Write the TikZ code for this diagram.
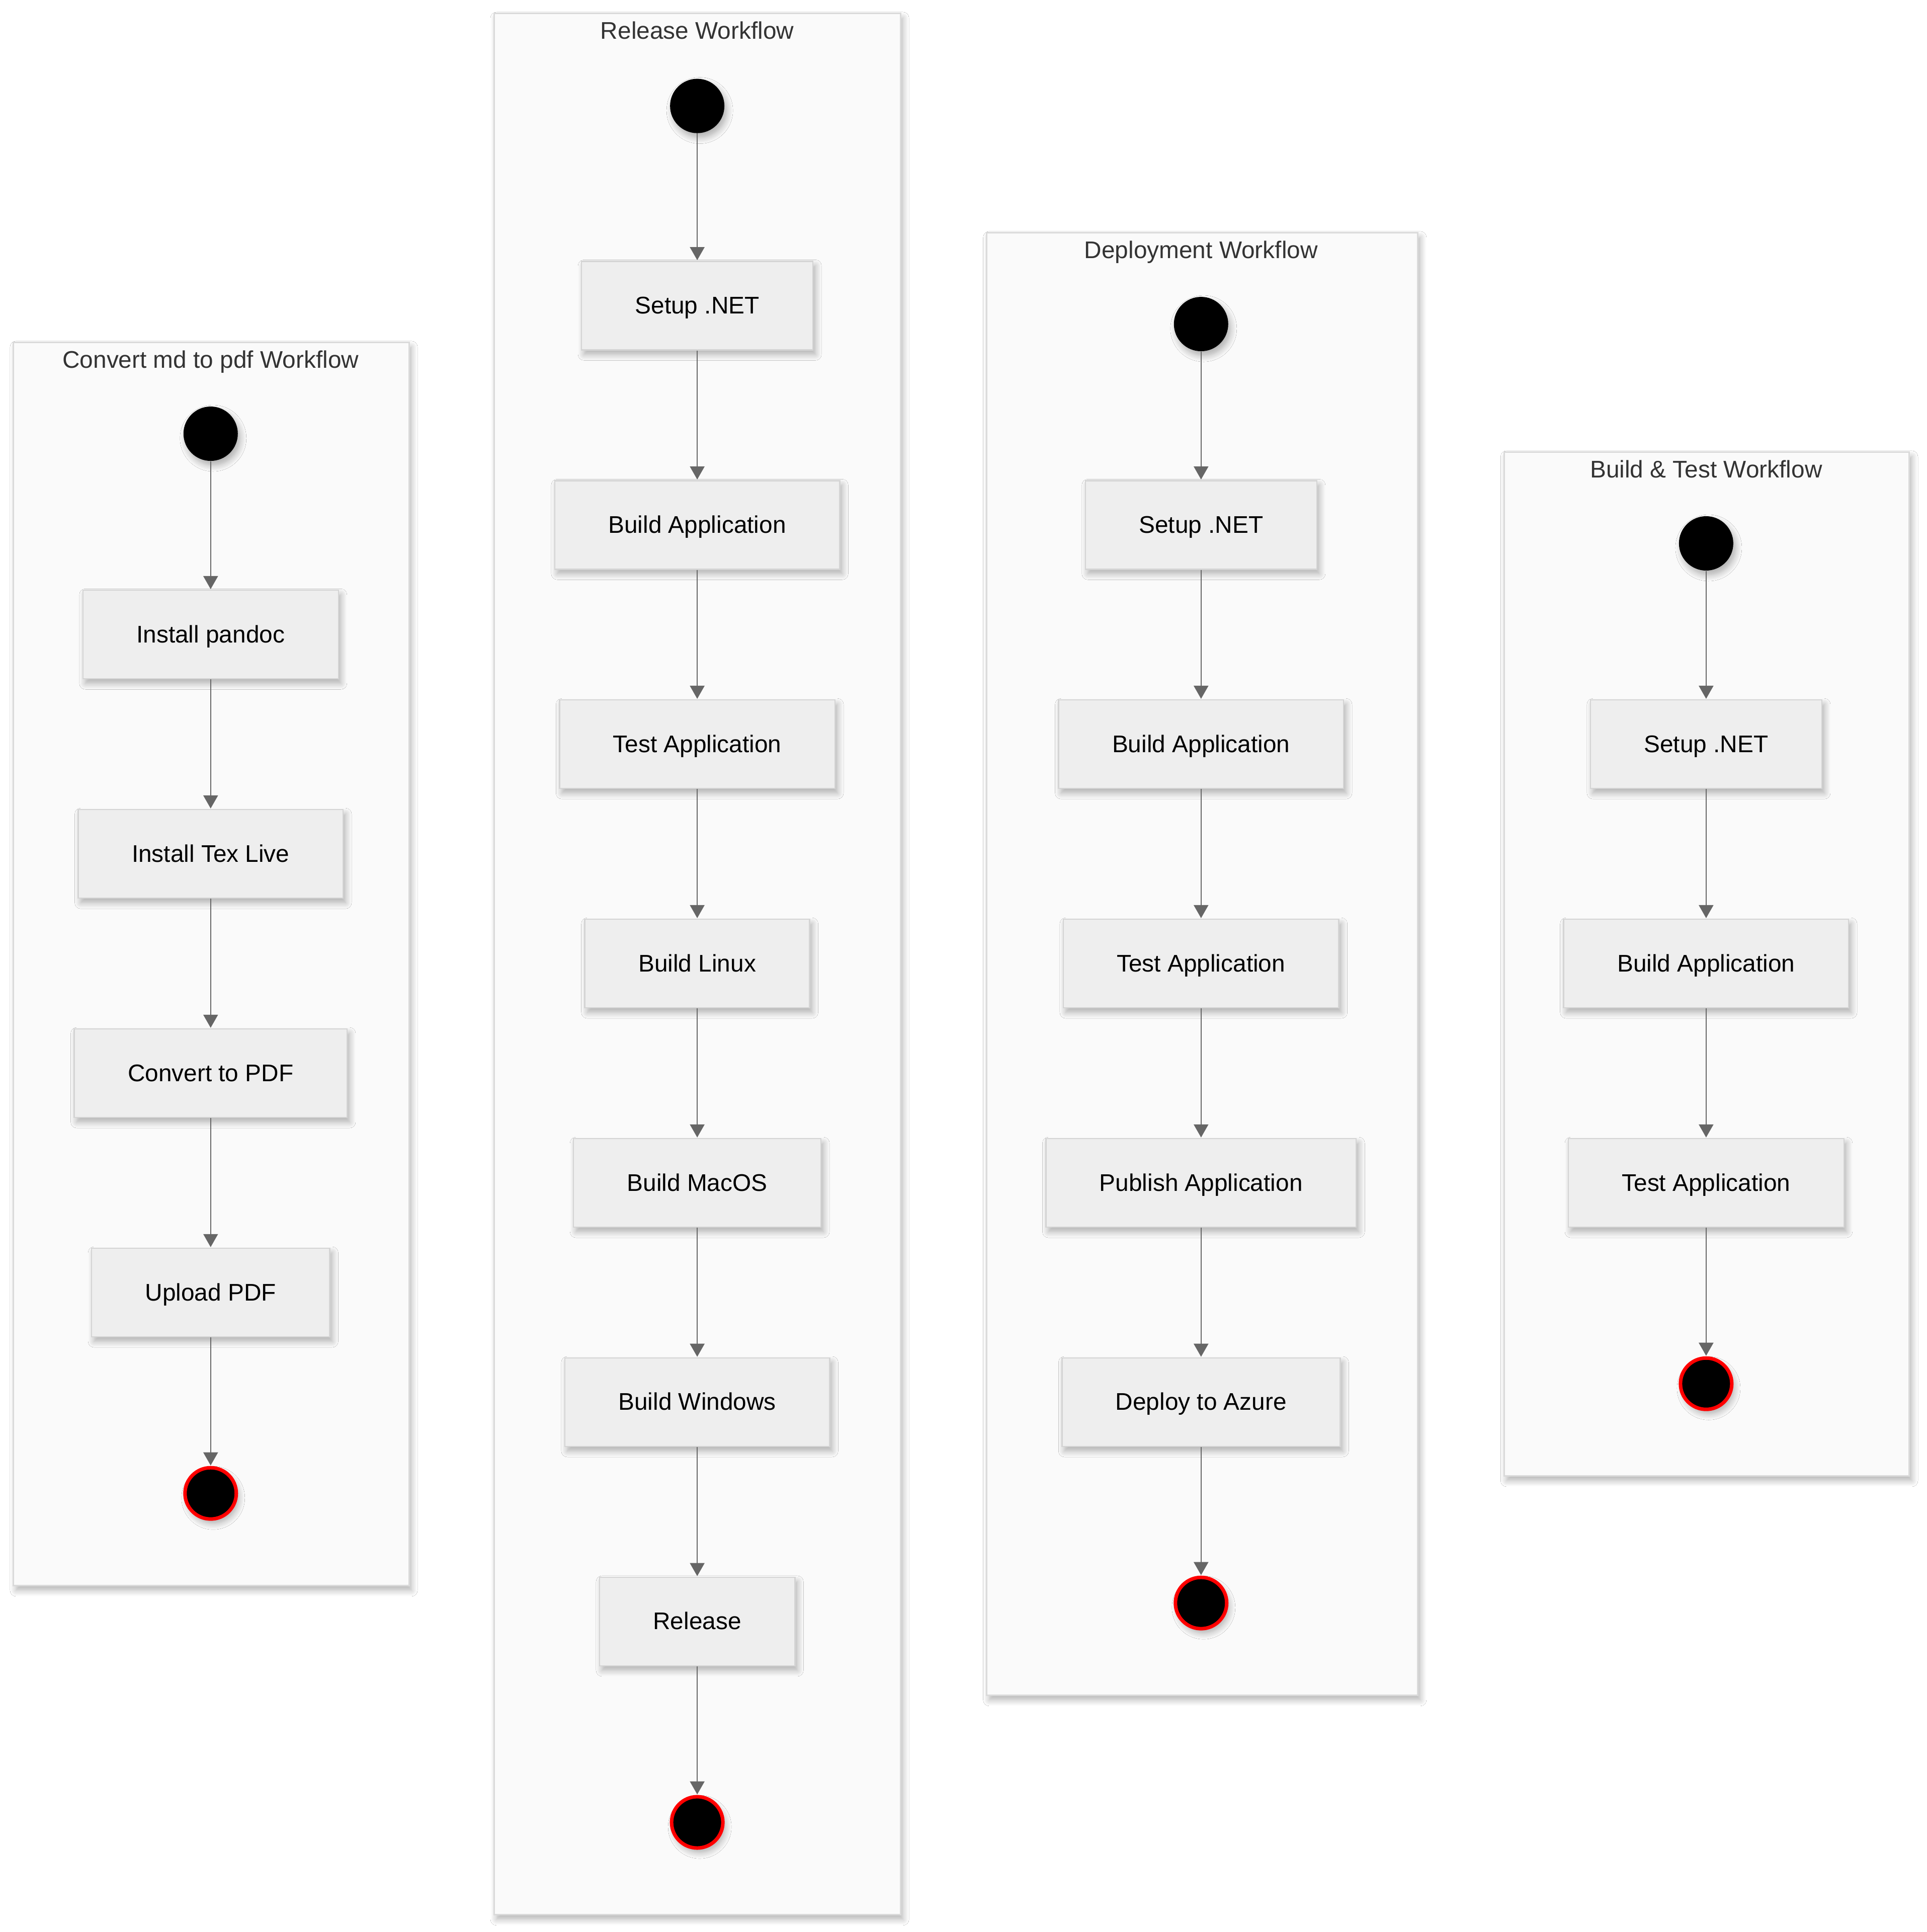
\documentclass[tikz,border=0pt]{standalone}
\usepackage{fontspec}
\setmainfont{Liberation Sans}
\usetikzlibrary{arrows.meta,shadows.blur}

\definecolor{clusterfill}{HTML}{FAFAFA}
\definecolor{clusterline}{HTML}{DADADA}
\definecolor{boxfill}{HTML}{EEEEEE}
\definecolor{boxline}{HTML}{D4D4D4}
\definecolor{edgecol}{HTML}{666666}
\definecolor{titlecol}{HTML}{333333}

\tikzset{
  softshadow/.style={blur shadow={shadow xshift=0.05cm, shadow yshift=-0.09cm,
      shadow blur radius=0.12cm, shadow blur steps=8, shadow opacity=30}},
  cluster/.style={fill=clusterfill, draw=clusterline, line width=0.03cm, softshadow},
  title/.style={text=titlecol, font=\fontsize{13.6}{16}\selectfont, inner sep=0pt,
      text height=1.0em, text depth=0.09em},
  stepbox/.style={rectangle, fill=boxfill, draw=boxline, line width=0.025cm,
      minimum height=1.76cm, inner xsep=1.065cm, inner ysep=0pt,
      text height=1.0em, text depth=0.09em,
      font=\fontsize{13.6}{16}\selectfont, text=black, softshadow},
  initial/.style={circle, fill=black, minimum size=1.08cm, inner sep=0pt, softshadow},
  final/.style={circle, fill=black, draw=red, line width=0.07cm,
      minimum size=1.02cm, inner sep=0pt, softshadow},
  flow/.style={draw=edgecol, line width=0.024cm,
      -{Triangle[length=0.26cm,width=0.29cm]}, shorten >=0.01cm},
}

\begin{document}
\begin{tikzpicture}[x=0.024495cm, y=-0.024495cm]
  \useasboundingbox[fill=white] (0,0) rectangle (1564,1568);

  % workflow frames
  \path[cluster] (11,278) rectangle (332,1287);
  \path[cluster] (401,11) rectangle (731,1554);
  \path[cluster] (801,189) rectangle (1151,1376);
  \path[cluster] (1221,367) rectangle (1550,1198);

  % frame titles
  \node[title] (t1) at (171,292) {Convert md to pdf Workflow};
  \node[title] (t2) at (566,25)  {Release Workflow};
  \node[title] (t3) at (975,203) {Deployment Workflow};
  \node[title] (t4) at (1385,381) {Build \& Test Workflow};

  % Convert md to pdf
  \node[initial] (a0) at (171,352) {};
  \node[stepbox] (a1) at (171,515) {Install pandoc};
  \node[stepbox] (a2) at (171,693) {Install Tex Live};
  \node[stepbox] (a3) at (171,871) {Convert to PDF};
  \node[stepbox] (a4) at (171,1049) {Upload PDF};
  \node[final]   (a5) at (171,1212) {};

  % Release
  \node[initial] (b0) at (566,86) {};
  \node[stepbox] (b1) at (566,248) {Setup .NET};
  \node[stepbox] (b2) at (566,426) {Build Application};
  \node[stepbox] (b3) at (566,604) {Test Application};
  \node[stepbox] (b4) at (566,782) {Build Linux};
  \node[stepbox] (b5) at (566,960) {Build MacOS};
  \node[stepbox] (b6) at (566,1138) {Build Windows};
  \node[stepbox] (b7) at (566,1316) {Release};
  \node[final]   (b8) at (566,1479) {};

  % Deployment
  \node[initial] (c0) at (975,263) {};
  \node[stepbox] (c1) at (975,426) {Setup .NET};
  \node[stepbox] (c2) at (975,604) {Build Application};
  \node[stepbox] (c3) at (975,782) {Test Application};
  \node[stepbox] (c4) at (975,960) {Publish Application};
  \node[stepbox] (c5) at (975,1138) {Deploy to Azure};
  \node[final]   (c6) at (975,1301) {};

  % Build & Test
  \node[initial] (d0) at (1385,441) {};
  \node[stepbox] (d1) at (1385,604) {Setup .NET};
  \node[stepbox] (d2) at (1385,782) {Build Application};
  \node[stepbox] (d3) at (1385,960) {Test Application};
  \node[final]   (d4) at (1385,1123) {};

  % transitions
  \foreach \s/\t in {a0/a1,a1/a2,a2/a3,a3/a4,a4/a5,
                     b0/b1,b1/b2,b2/b3,b3/b4,b4/b5,b5/b6,b6/b7,b7/b8,
                     c0/c1,c1/c2,c2/c3,c3/c4,c4/c5,c5/c6,
                     d0/d1,d1/d2,d2/d3,d3/d4}
    \draw[flow] (\s) -- (\t);
\end{tikzpicture}
\end{document}
